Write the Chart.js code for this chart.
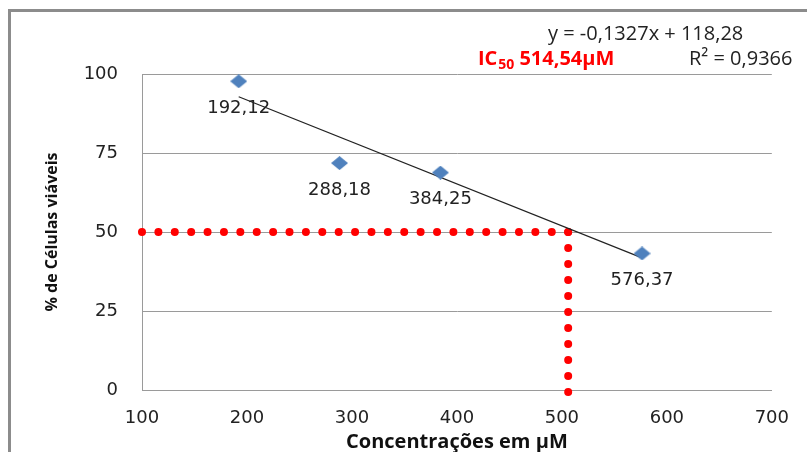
<!DOCTYPE html>
<html>
<head>
<meta charset="utf-8">
<script src="https://cdn.jsdelivr.net/npm/chart.js@4"></script>
<style>
  html, body { margin: 0; padding: 0; background: #fff; overflow: hidden; }
  #frame { position: absolute; left: 8px; top: 9px; width: 900px; height: 500px;
           border-left: 3px solid #8c8c8c; border-top: 3px solid #8c8c8c; }
  #chart { position: absolute; left: 0; top: 0; }
</style>
</head>
<body>
<div id="frame"></div>
<canvas id="chart" width="807" height="452"></canvas>
<script>
// measured viability per concentration (µM)
const concentrations = [192.12, 288.18, 384.25, 576.37];
const viability = [97.7, 71.8, 68.8, 43.2];
const xTicks = [100, 200, 300, 400, 500, 600, 700];
const yTicks = [0, 25, 50, 75, 100];

// linear fit
const trendSlope = -0.1327;
const trendIntercept = 118.28;
const rSquared = 0.9366;
const ic50 = 514.54;

// 50% guide lines
const cutoffLevel = 50;
const cutoffConc = 506;
const guideBottom = -0.9;

const fmt = (v, d) => v.toFixed(d).replace('.', ',');

function diamond(w, h, color) {
    const c = document.createElement('canvas');
    c.width = w;
    c.height = h;
    const g = c.getContext('2d');
    g.fillStyle = color;
    g.beginPath();
    g.moveTo(w / 2, 0);
    g.lineTo(w, h / 2);
    g.lineTo(w / 2, h);
    g.lineTo(0, h / 2);
    g.closePath();
    g.fill();
    return c;
}

const tickFont = { family: 'DejaVu Sans', size: 18 };

const pointLabels = {
    id: 'pointLabels',
    afterDatasetsDraw(chart) {
        const ctx = chart.ctx;
        const meta = chart.getDatasetMeta(0);
        ctx.save();
        ctx.font = '18px "DejaVu Sans"';
        ctx.fillStyle = '#222';
        ctx.textAlign = 'center';
        ctx.textBaseline = 'middle';
        meta.data.forEach((pt, i) => {
            ctx.fillText(fmt(concentrations[i], 2), pt.x, pt.y + 27);
        });
        ctx.restore();
    }
};

const header = {
    id: 'header',
    afterDraw(chart) {
        const ctx = chart.ctx;
        ctx.save();
        ctx.textBaseline = 'alphabetic';
        ctx.fillStyle = '#222';
        ctx.font = '20px "Open Sans"';
        ctx.fillText(`y = ${fmt(trendSlope, 4)}x + ${fmt(trendIntercept, 2)}`, 548, 40);
        ctx.fillText(`R² = ${fmt(rSquared, 4)}`, 689, 65);

        ctx.fillStyle = '#ff0000';
        let x = 478;
        ctx.font = 'bold 20px "Open Sans"';
        ctx.fillText('IC', x, 65);
        x += ctx.measureText('IC').width + 1;
        ctx.font = 'bold 14px "Open Sans"';
        ctx.fillText('50', x, 69);
        x += ctx.measureText('50').width + 5;
        ctx.font = 'bold 20px "Open Sans"';
        ctx.fillText(`${fmt(ic50, 2)}µM`, x, 65);
        ctx.restore();
    }
};

const first = concentrations[0];
const last = concentrations[concentrations.length - 1];

new Chart(document.getElementById('chart'), {
    type: 'scatter',
    data: {
        datasets: [
            {
                data: concentrations.map((c, i) => ({ x: c, y: viability[i] })),
                pointStyle: diamond(17, 14, '#4f81bd'),
                pointRadius: 8,
                showLine: false
            },
            {
                data: [
                    { x: first, y: trendSlope * first + trendIntercept },
                    { x: last, y: trendSlope * last + trendIntercept }
                ],
                showLine: true,
                borderColor: '#222',
                borderWidth: 1.2,
                pointRadius: 0
            },
            {
                data: [
                    { x: xTicks[0], y: cutoffLevel },
                    { x: cutoffConc, y: cutoffLevel }
                ],
                showLine: true,
                borderColor: '#ff0000',
                borderWidth: 8,
                borderDash: [0, 16.39],
                borderCapStyle: 'round',
                pointRadius: 0,
                clip: false
            },
            {
                data: [
                    { x: cutoffConc, y: cutoffLevel },
                    { x: cutoffConc, y: guideBottom }
                ],
                showLine: true,
                borderColor: '#ff0000',
                borderWidth: 8,
                borderDash: [0, 16],
                borderCapStyle: 'round',
                pointRadius: 0,
                clip: false
            }
        ]
    },
    options: {
        responsive: false,
        animation: false,
        events: [],
        layout: { padding: { top: 74, right: 35, bottom: 0, left: 0 } },
        plugins: { legend: { display: false }, tooltip: { enabled: false } },
        scales: {
            x: {
                type: 'linear',
                min: xTicks[0],
                max: xTicks[xTicks.length - 1],
                afterBuildTicks: s => { s.ticks = xTicks.map(v => ({ value: v })); },
                afterFit: s => { s.height = 62; },
                grid: { display: false, drawTicks: false },
                border: { display: true, color: '#9a9a9a' },
                ticks: { font: tickFont, color: '#222', padding: 18 },
                title: {
                    display: true,
                    text: 'Concentrações em µM',
                    color: '#111',
                    font: { family: 'Open Sans', size: 20, weight: 'bold', lineHeight: 1 },
                    padding: { top: 0, bottom: 0 }
                }
            },
            y: {
                min: yTicks[0],
                max: yTicks[yTicks.length - 1],
                afterBuildTicks: s => { s.ticks = yTicks.map(v => ({ value: v })); },
                afterFit: s => { s.width = 142; },
                grid: { color: '#9a9a9a', drawTicks: false },
                border: { display: true, color: '#9a9a9a' },
                ticks: { font: tickFont, color: '#222', padding: 24 },
                title: {
                    display: true,
                    text: '% de Células viáveis',
                    color: '#111',
                    font: { family: 'Open Sans', size: 16, weight: 'bold', lineHeight: 1.2 },
                    padding: { top: 43, bottom: 0 }
                }
            }
        }
    },
    plugins: [pointLabels, header]
});
</script>
</body>
</html>
